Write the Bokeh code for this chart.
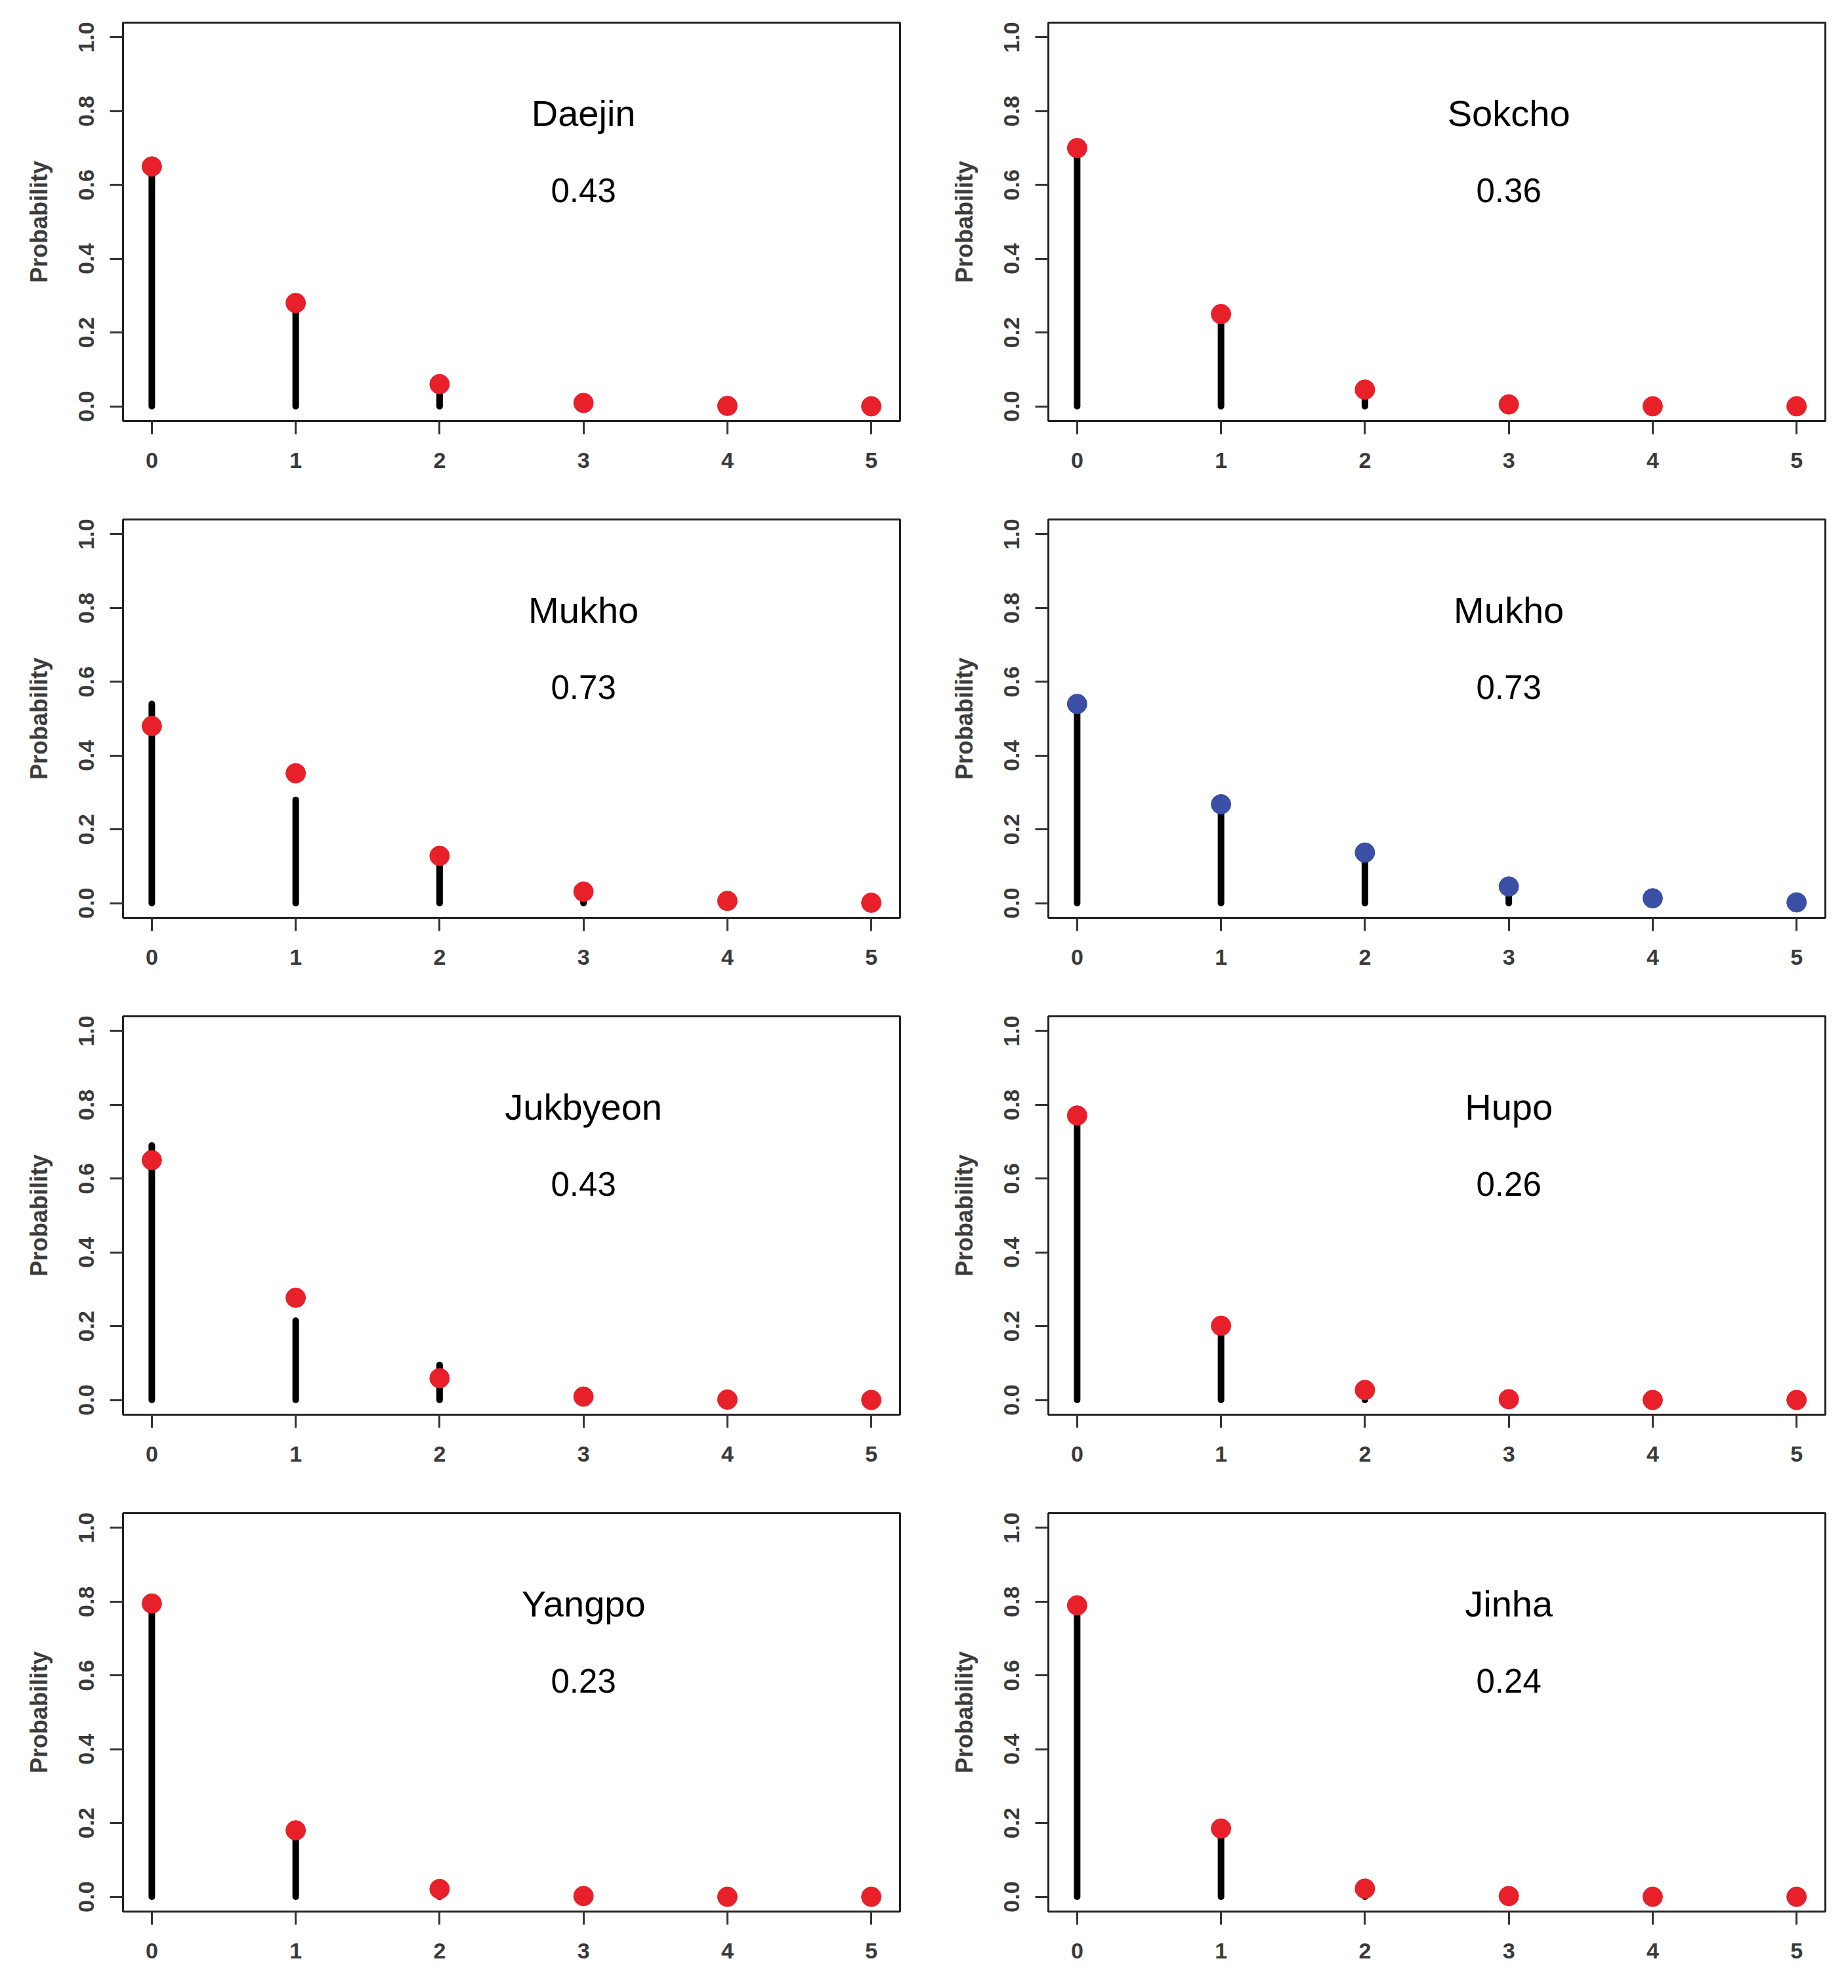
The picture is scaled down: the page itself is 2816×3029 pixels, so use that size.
import math
from bokeh.plotting import figure
from bokeh.layouts import gridplot
from bokeh.models import Range1d, FixedTicker, ColumnDataSource, NumeralTickFormatter
from bokeh.core.properties import value
from bokeh.embed import file_html
from bokeh.resources import INLINE

# ---- data ----
counts = [0, 1, 2, 3, 4, 5]
ports = ["Daejin", "Sokcho", "Mukho", "Mukho", "Jukbyeon", "Hupo", "Yangpo", "Jinha"]
rate_labels = ["0.43", "0.36", "0.73", "0.73", "0.43", "0.26", "0.23", "0.24"]

# observed proportions (black stems)
daejin_obs = [0.65, 0.28, 0.04, 0.0, 0.0, 0.0]
sokcho_obs = [0.70, 0.25, 0.03, 0.0, 0.0, 0.0]
mukho_obs = [0.54, 0.28, 0.12, 0.02, 0.0, 0.0]
jukbyeon_obs = [0.69, 0.215, 0.095, 0.0, 0.0, 0.0]
hupo_obs = [0.77, 0.20, 0.01, 0.0, 0.0, 0.0]
yangpo_obs = [0.79, 0.17, 0.0, 0.0, 0.0, 0.0]
jinha_obs = [0.79, 0.18, 0.0, 0.0, 0.0, 0.0]

# fitted probabilities (dots)
daejin_fit = [0.65, 0.28, 0.06, 0.009, 0.001, 0.0]
sokcho_fit = [0.70, 0.25, 0.045, 0.005, 0.0, 0.0]
mukho_fit = [0.48, 0.352, 0.128, 0.031, 0.006, 0.001]
mukho_alt_fit = [0.54, 0.268, 0.137, 0.045, 0.013, 0.002]
jukbyeon_fit = [0.65, 0.277, 0.059, 0.009, 0.001, 0.0]
hupo_fit = [0.771, 0.201, 0.027, 0.002, 0.0, 0.0]
yangpo_fit = [0.795, 0.18, 0.021, 0.002, 0.0, 0.0]
jinha_fit = [0.79, 0.185, 0.022, 0.002, 0.0, 0.0]

y_ticks = [0.0, 0.2, 0.4, 0.6, 0.8, 1.0]

RED = "#e8202a"
BLUE = "#3b4fa6"

panels = [
    (ports[0], rate_labels[0], daejin_obs, daejin_fit, RED),
    (ports[1], rate_labels[1], sokcho_obs, sokcho_fit, RED),
    (ports[2], rate_labels[2], mukho_obs, mukho_fit, RED),
    (ports[3], rate_labels[3], mukho_obs, mukho_alt_fit, BLUE),
    (ports[4], rate_labels[4], jukbyeon_obs, jukbyeon_fit, RED),
    (ports[5], rate_labels[5], hupo_obs, hupo_fit, RED),
    (ports[6], rate_labels[6], yangpo_obs, yangpo_fit, RED),
    (ports[7], rate_labels[7], jinha_obs, jinha_fit, RED),
]

FONT = "Liberation Sans"
col_widths = [1410, 1390]
row_heights = [757, 757, 757, 748]
TOP = 34
FRAME_H = 607
FRAME_W = 1184
LEFT = 187

figs = []
for i, (name, rate, obs, fit, col) in enumerate(panels):
    row, c = divmod(i, 2)
    h = row_heights[row]
    w = col_widths[c]
    p = figure(width=w, height=h, output_backend="svg", toolbar_location=None,
               x_range=Range1d(-0.2, 5.2), y_range=Range1d(-0.04, 1.04),
               min_border_left=LEFT, min_border_right=w - LEFT - FRAME_W,
               min_border_top=TOP, min_border_bottom=h - TOP - FRAME_H,
               background_fill_color="white", border_fill_color="white")
    p.xgrid.visible = False
    p.ygrid.visible = False
    p.outline_line_color = "#222222"
    p.outline_line_width = 3

    for ax in (p.xaxis[0], p.yaxis[0]):
        ax.axis_line_color = None
        ax.major_tick_in = 0
        ax.major_tick_out = 20
        ax.major_tick_line_width = 3
        ax.major_tick_line_color = "#333333"
        ax.minor_tick_line_color = None
        ax.major_label_text_font = FONT
        ax.major_label_text_font_size = "34px"
        ax.major_label_text_font_style = "bold"
        ax.major_label_text_color = "#3a3a3a"

    p.xaxis[0].ticker = FixedTicker(ticks=counts)
    p.xaxis[0].major_label_standoff = 28
    p.yaxis[0].ticker = FixedTicker(ticks=y_ticks)
    p.yaxis[0].formatter = NumeralTickFormatter(format="0.0")
    p.yaxis[0].major_label_orientation = "parallel"
    p.yaxis[0].major_label_standoff = 24
    p.yaxis[0].axis_label = "Probability"
    p.yaxis[0].axis_label_text_font = FONT
    p.yaxis[0].axis_label_text_font_size = "36px"
    p.yaxis[0].axis_label_text_font_style = "bold"
    p.yaxis[0].axis_label_text_color = "#3c3c3c"
    p.yaxis[0].axis_label_standoff = 38

    src = ColumnDataSource(dict(x=counts, y0=[0.0] * len(counts), obs=obs, fit=fit))
    p.segment(x0="x", y0="y0", x1="x", y1="obs", source=src,
              line_color="black", line_width=10, line_cap="round")
    p.scatter(x="x", y="fit", source=src, size=30, fill_color=col, line_color=col)

    p.text(x=[3.0], y=[0.795], text=[name], text_font=value(FONT),
           text_font_size="56px", text_align="center", text_baseline="middle",
           text_color="black")
    p.text(x=[3.0], y=[0.585], text=[rate], text_font=value(FONT),
           text_font_size="51px", text_align="center", text_baseline="middle",
           text_color="black")
    figs.append(p)

grid = gridplot([[figs[0], figs[1]], [figs[2], figs[3]], [figs[4], figs[5]], [figs[6], figs[7]]],
                toolbar_location=None)

open("out.html", "w").write(file_html(grid, INLINE))
